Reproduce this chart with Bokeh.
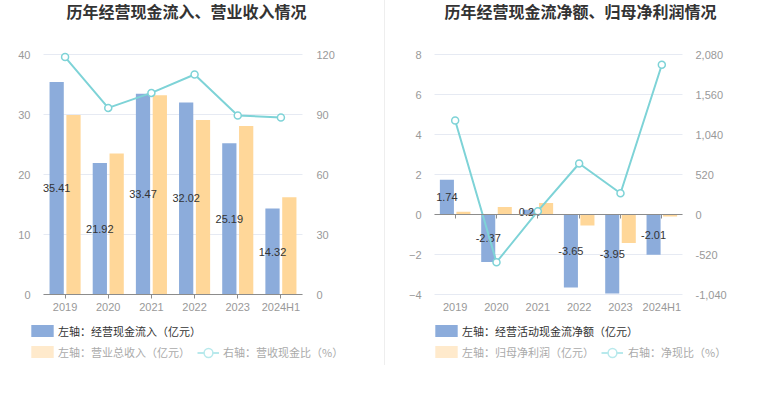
from bokeh.plotting import figure
from bokeh.models import (ColumnDataSource, Range1d, LinearAxis, FixedTicker, NumeralTickFormatter,
                          Legend, LegendItem, Label, Spacer)
from bokeh.transform import dodge
from bokeh.core.properties import value
from bokeh.layouts import row
from bokeh.embed import file_html
from bokeh.resources import INLINE

# ---------------- data ----------------
years = ["2019", "2020", "2021", "2022", "2023", "2024H1"]

# left chart
cash_inflow = [35.41, 21.92, 33.47, 32.02, 25.19, 14.32]      # 经营现金流入（亿元）
revenue = [29.9, 23.5, 33.2, 29.1, 28.1, 16.2]                # 营业总收入（亿元）
cash_ratio = [118.7, 93.3, 100.8, 110.0, 89.5, 88.5]          # 营收现金比（%）
left_ticks = [0, 10, 20, 30, 40]
right_ticks = [0, 30, 60, 90, 120]

# right chart
net_cash = [1.74, -2.37, 0.24, -3.65, -3.95, -2.01]           # 经营活动现金流净额（亿元）
net_profit = [0.143, 0.38, 0.57, -0.55, -1.42, -0.10]         # 归母净利润（亿元）
net_cash_ratio = [1222, -620, 43, 663, 277, 1946]             # 净现比（%）
left_ticks2 = [-4, -2, 0, 2, 4, 6, 8]
right_ticks2 = [-1040, -520, 0, 520, 1040, 1560, 2080]

# ---------------- styles ----------------
BLUE = "#8cacdb"
ORANGE = "#ffd799"
ORANGE_LG = "#ffeacc"
CYAN = "#7ed3d7"
CYAN_LG = "#b8e9ec"
GRID = "#e6eaf3"
AXIS = "#8c8c8c"
TICK_TXT = "#999999"
CJK = "Noto Sans CJK SC"
NUM = "Liberation Sans"
H = 370                      # canvas height (frame covers whole canvas)
NAN = float("nan")

ncat = len(years)
xpos = [i + 0.5 for i in range(ncat)]
tick_overrides = {x: y for x, y in zip(xpos, years)}


def make_fig(width, plot_left, plot_width, zero_px, px_per_unit, right_scale):
    cw = plot_width / ncat
    xr = Range1d(-plot_left / cw, (width - plot_left) / cw)
    yr = Range1d(-(H - zero_px) / px_per_unit, zero_px / px_per_unit)
    p = figure(width=width, height=H, x_range=xr, y_range=yr, output_backend="svg",
               toolbar_location=None, tools="", min_border=0)
    p.extra_y_ranges = {"right": Range1d(yr.start * right_scale, yr.end * right_scale)}
    p.outline_line_color = None
    p.xgrid.visible = False
    p.ygrid.visible = False
    p.background_fill_color = "white"
    p.border_fill_color = "white"
    return p


def style_yaxis(ax, ticks, standoff, loc):
    ax.fixed_location = loc
    ax.ticker = FixedTicker(ticks=ticks)
    ax.axis_line_color = None
    ax.major_tick_line_color = None
    ax.minor_tick_line_color = None
    ax.major_label_standoff = standoff
    ax.major_label_text_font = NUM
    ax.major_label_text_font_size = "11px"
    ax.major_label_text_color = TICK_TXT


def style_xaxis(ax, loc, line, labels, standoff):
    ax.fixed_location = loc
    ax.bounds = (0, ncat)
    ax.ticker = FixedTicker(ticks=xpos)
    ax.major_label_overrides = tick_overrides
    ax.minor_tick_line_color = None
    ax.major_label_text_font = NUM
    ax.major_label_text_font_size = "11px"
    ax.major_label_standoff = standoff
    ax.major_tick_in = 0
    ax.major_tick_out = 4
    if line:
        ax.axis_line_color = AXIS
        ax.major_tick_line_color = AXIS
    else:
        ax.axis_line_color = None
        ax.major_tick_line_color = None
    ax.major_label_text_color = TICK_TXT if labels else None


def add_legend(p, label, renderers, x, y, color, gw, gh, standoff):
    lg = Legend(items=[LegendItem(label=label, renderers=renderers)], location=(x, y),
                orientation="horizontal", glyph_width=gw, glyph_height=gh, label_height=gh,
                label_standoff=standoff, padding=0, margin=0, spacing=0,
                border_line_color=None, background_fill_alpha=0,
                label_text_font=CJK, label_text_font_size="11px", label_text_color=color,
                click_policy="none")
    p.add_layout(lg)


def add_title(p, text, x, y):
    p.add_layout(Label(x=x, y=y, x_units="screen", y_units="screen", text=text,
                       text_font=CJK, text_font_size="16px", text_font_style="bold",
                       text_color="#333333", text_align="center", text_baseline="middle"))


def add_grid(p, ticks):
    p.segment(x0=[0] * len(ticks), x1=[ncat] * len(ticks), y0=ticks, y1=ticks,
              line_color=GRID, line_width=1)


def draw_series(p, src, a, b, off, bw):
    bar = p.vbar(x=dodge("x", -off), top=a, bottom=0, width=bw, source=src,
                 fill_color=BLUE, line_color=None)
    p.vbar(x=dodge("x", off), top=b, bottom=0, width=bw, source=src,
           fill_color=ORANGE, line_color=None)
    p.text(x=dodge("x", -off), y="mid", text="lbl", source=src,
           text_font=value(NUM), text_font_size="11px", text_color="#333333",
           text_align="center", text_baseline="middle")
    p.line(x="x", y="ratio", y_range_name="right", source=src, line_color=CYAN, line_width=2)
    p.scatter(x="x", y="ratio", y_range_name="right", source=src, marker="circle", size=7,
              fill_color="white", line_color=CYAN, line_width=1.5)
    # legend-only renderers (hold a single NaN so nothing shows in the plot)
    lg_or = p.vbar(x=[NAN], top=[NAN], width=0.3, fill_color=ORANGE_LG, line_color=None)
    lg_ln = p.line(x=[NAN], y=[NAN], line_color=CYAN_LG, line_width=2)
    lg_sc = p.scatter(x=[NAN], y=[NAN], marker="circle", fill_color="white", line_color=CYAN_LG,
                      line_width=1.5)
    return bar, lg_or, lg_ln, lg_sc


# ---------------- left chart ----------------
src1 = ColumnDataSource(dict(
    x=xpos, inflow=cash_inflow, revenue=revenue, ratio=cash_ratio,
    mid=[v / 2 for v in cash_inflow], lbl=[f"{v:.2f}" for v in cash_inflow]))

p1 = make_fig(384, 43, 259, 294, 6.0, 3.0)
add_grid(p1, left_ticks)
style_yaxis(p1.yaxis[0], left_ticks, 7, 0)
rax1 = LinearAxis(y_range_name="right")
style_yaxis(rax1, right_ticks, 8, ncat)
p1.add_layout(rax1, "right")
style_xaxis(p1.xaxis[0], 0, True, True, 2)

b1, o1, l1, s1 = draw_series(p1, src1, "inflow", "revenue", 0.195, 0.33)

add_legend(p1, "左轴：经营现金流入（亿元）", [b1], 28, 31.5, "#333333", 28, 15, 2)
add_legend(p1, "左轴：营业总收入（亿元）", [o1], 28, 10.5, "#aaaaaa", 28, 15, 2)
add_legend(p1, "右轴：营收现金比（%）", [l1, s1], 197, 5.5, "#aaaaaa", 22, 25, 4)
add_title(p1, "历年经营现金流入、营业收入情况", 186, H - 10)

# ---------------- right chart ----------------
src2 = ColumnDataSource(dict(
    x=xpos, cash=net_cash, profit=net_profit, ratio=net_cash_ratio,
    mid=[v / 2 for v in net_cash], lbl=[f"{v:.2f}" for v in net_cash]))

p2 = make_fig(372, 49, 248, 214, 20.0, 260.0)
add_grid(p2, left_ticks2)
style_yaxis(p2.yaxis[0], left_ticks2, 7, 0)
rax2 = LinearAxis(y_range_name="right")
style_yaxis(rax2, right_ticks2, 7, ncat)
rax2.formatter = NumeralTickFormatter(format="0,0")
p2.add_layout(rax2, "right")
style_xaxis(p2.xaxis[0], left_ticks2[0], False, True, 2)
zero_axis = LinearAxis()
style_xaxis(zero_axis, 0, True, False, 2)
p2.add_layout(zero_axis, "below")

b2, o2, l2, s2 = draw_series(p2, src2, "cash", "profit", 0.2, 0.34)

add_legend(p2, "左轴：经营活动现金流净额（亿元）", [b2], 47, 31.5, "#333333", 28, 15, 2)
add_legend(p2, "左轴：归母净利润（亿元）", [o2], 47, 10.5, "#aaaaaa", 28, 15, 2)
add_legend(p2, "右轴：净现比（%）", [l2, s2], 216, 5.5, "#aaaaaa", 22, 25, 5)
add_title(p2, "历年经营现金流净额、归母净利润情况", 195, H - 10)

sep = Spacer(width=1, height=365, styles={"background-color": "#eeeeee"})
layout = row(p1, sep, p2)

open("out.html", "w").write(file_html(layout, INLINE))
